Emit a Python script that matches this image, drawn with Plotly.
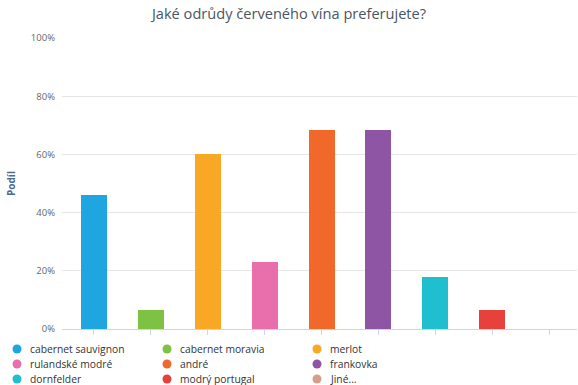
import plotly.graph_objects as go

# Survey: preferred red wine varieties (share of respondents, %)
varieties = [
    "cabernet sauvignon", "cabernet moravia", "merlot",
    "rulandské modré", "andré", "frankovka",
    "dornfelder", "modrý portugal", "Jiné...",
]
shares = [46.2, 6.5, 60.0, 23.0, 68.4, 68.4, 17.8, 6.5, 0.0]
colors = [
    "#1fa6e0", "#7dc243", "#f9a826",
    "#e86fab", "#f0692a", "#8e55a5",
    "#1fbfcf", "#e8403a", "#d4a08a",
]
y_ticks = [0, 20, 40, 60, 80, 100]
y_tick_labels = [f"{v}%" for v in y_ticks]

W, H = 578, 385
L, R, T, B = 62, 1, 38, 56
PW, PH = W - L - R, H - T - B


def px_to_paper(px, py):
    return (px - L) / PW, (H - B - py) / PH


fig = go.Figure()
fig.add_trace(go.Bar(
    x=varieties,
    y=shares,
    marker=dict(color=colors, line=dict(width=0)),
    width=0.457,
    showlegend=False,
    hovertemplate="%{x}: %{y:.1f}%<extra></extra>",
))

# Legend drawn as a 3-column grid of dots and labels under the plot
col_x = [17, 167, 317]
row_y = [349, 364, 379]
shapes = []
annotations = []
for i, (name, col) in enumerate(zip(varieties, colors)):
    cx = col_x[i % 3]
    cy = row_y[i // 3]
    px_, py_ = px_to_paper(cx, cy)
    shapes.append(dict(
        type="circle", xref="paper", yref="paper",
        xsizemode="pixel", ysizemode="pixel",
        xanchor=px_, yanchor=py_,
        x0=-4.5, x1=4.5, y0=-4.5, y1=4.5,
        fillcolor=col, line=dict(width=0),
    ))
    tx, ty = px_to_paper(cx + 11, cy)
    annotations.append(dict(
        text=name, xref="paper", yref="paper", x=tx, y=ty,
        xanchor="left", yanchor="middle", showarrow=False,
        font=dict(family="Open Sans", size=10.3, color="#333333"),
    ))

fig.update_layout(
    width=W, height=H,
    margin=dict(l=L, r=R, t=T, b=B, autoexpand=False),
    paper_bgcolor="white", plot_bgcolor="white",
    title=dict(
        text="Jaké odrůdy červeného vína preferujete?",
        x=0.5, xref="container", xanchor="center",
        y=1 - 14 / H, yref="container", yanchor="middle",
        font=dict(family="Open Sans", size=14.6, color="#4a5562"),
    ),
    xaxis=dict(
        type="category",
        range=[-0.562, 8.49],
        showticklabels=False,
        ticks="outside", ticklen=5, tickcolor="#ccd6eb", tickwidth=1,
        showgrid=False, zeroline=False,
        showline=True, linecolor="#ccd6eb", linewidth=1,
        fixedrange=True,
    ),
    yaxis=dict(
        range=[0, 100],
        tickmode="array",
        tickvals=y_ticks,
        ticktext=y_tick_labels,
        tickfont=dict(family="Open Sans", size=9.5, color="#666666"),
        ticks="", ticklabelstandoff=6,
        showgrid=True, gridcolor="#e6e6e6", gridwidth=1,
        zeroline=False, showline=False,
        title=dict(
            text="<b>Podíl</b>",
            font=dict(family="Open Sans", size=10, color="#4a6a93"),
            standoff=13,
        ),
        automargin=False,
        fixedrange=True,
    ),
    shapes=shapes,
    annotations=annotations,
    bargap=0,
)

fig.write_html("out.html")
